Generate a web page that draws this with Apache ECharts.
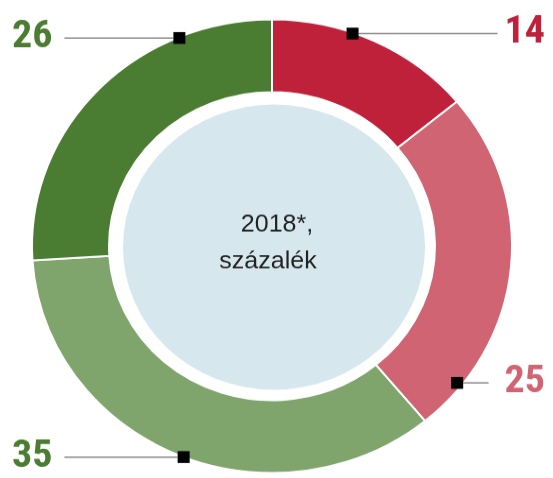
<!DOCTYPE html>
<html>
<head>
<meta charset="utf-8">
<script src="https://cdn.jsdelivr.net/npm/echarts@6/dist/echarts.min.js"></script>
<style>
html, body { margin: 0; padding: 0; background: #fff; overflow: hidden; }
#wrap { width: 553px; height: 478px; overflow: hidden; }
#chart { width: 553px; height: 506px; transform: scaleY(0.945); transform-origin: 0 0; }
</style>
</head>
<body>
<div id="wrap"><div id="chart"></div></div>
<script>
// Data
const categories = ['A', 'B', 'C', 'D'];
const values = [14, 25, 35, 26];
const sliceColors = ['#c0213a', '#d16472', '#7fa46c', '#4a7c31'];
const labelColors = ['#c0213a', '#d16472', '#4a7c31', '#4a7c31'];
const centerLines = ['2018*,', 'százalék'];
// Callout marker placement (polar: radius px, angle deg clockwise from top)
const calloutRadius = [239, 235, 240, 239];
const calloutAngle = [19.7, 128.0, 201.6, 337.2];
const calloutSide = ['right', 'right', 'left', 'left'];
const calloutGap = [7, 16, 12, 12];

const CX = 272, CY = 260.5, R_OUT = 240, R_IN = 163;

const chart = echarts.init(document.getElementById('chart'), null, { renderer: 'canvas' });

const scatterData = values.map((v, i) => {
  const side = calloutSide[i];
  return {
    value: [calloutRadius[i], calloutAngle[i]],
    name: String(v),
    label: {
      show: true,
      formatter: String(v),
      position: side,
      color: labelColors[i],
      fontFamily: "Roboto, 'Open Sans', sans-serif",
      fontWeight: 'bold condensed',
      fontSize: 40,
      backgroundColor: 'rgba(255,255,255,0)',
      padding: side === 'left' ? [0, calloutGap[i], 0, 0] : [0, 0, 0, calloutGap[i]]
    }
  };
});

chart.setOption({
  animation: false,
  polar: { center: [CX, CY], radius: R_OUT },
  angleAxis: { type: 'value', min: 0, max: 360, startAngle: 90, clockwise: true, show: false },
  radiusAxis: { type: 'value', min: 0, max: R_OUT, show: false },
  series: [
    {
      type: 'pie',
      silent: true,
      center: [CX, CY],
      radius: [R_IN, R_OUT],
      startAngle: 90,
      clockwise: true,
      label: { show: false },
      labelLine: { show: false },
      itemStyle: { borderColor: '#ffffff', borderWidth: 2 },
      data: categories.map((c, i) => ({ name: c, value: values[i], itemStyle: { color: sliceColors[i] } })),
      z: 1
    },
    {
      type: 'pie',
      silent: true,
      center: [CX + 2, CY + 1],
      radius: [0, 151],
      label: {
        show: true,
        position: 'center',
        formatter: '{a|' + centerLines[0] + '}\n{b|' + centerLines[1] + '}',
        offset: [-6, -4],
        rich: {
          a: { fontFamily: "'Liberation Sans', Arial, sans-serif", fontSize: 25, color: '#222', lineHeight: 39, padding: [0, 0, 0, 18] },
          b: { fontFamily: "'Liberation Sans', Arial, sans-serif", fontSize: 25, color: '#222', lineHeight: 39 }
        }
      },
      labelLine: { show: false },
      itemStyle: { color: '#d6e8ee' },
      data: [{ name: 'center', value: 1 }],
      z: 1
    },
    {
      type: 'scatter',
      coordinateSystem: 'polar',
      silent: true,
      symbol: 'rect',
      symbolSize: [12, 12.5],
      itemStyle: { color: '#000000', opacity: 1 },
      labelLine: { show: true, lineStyle: { color: '#8a8a8a', width: 1.5 } },
      labelLayout: function (params) {
        const i = params.dataIndex;
        const r = params.rect;
        const y = r.y + r.height / 2;
        if (calloutSide[i] === 'left') {
          return { x: 12, y: y, align: 'left', verticalAlign: 'middle' };
        }
        return { x: 545, y: y, align: 'right', verticalAlign: 'middle' };
      },
      data: scatterData,
      z: 5
    }
  ]
});
</script>
</body>
</html>
